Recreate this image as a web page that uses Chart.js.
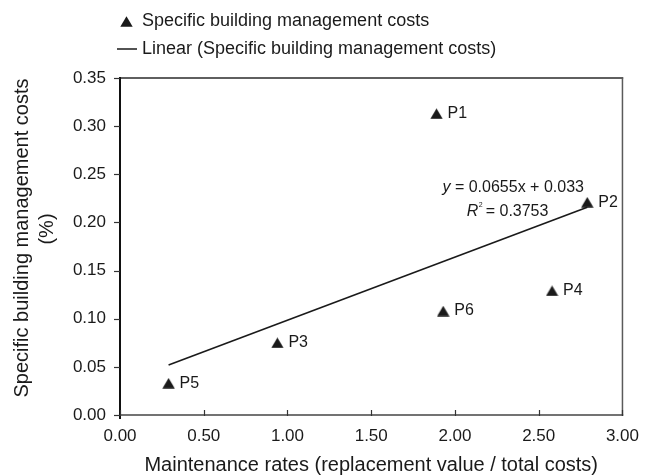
<!DOCTYPE html>
<html>
<head>
<meta charset="utf-8">
<script src="https://cdn.jsdelivr.net/npm/chart.js@4.4.1/dist/chart.umd.min.js"></script>
<style>
  html, body { margin: 0; padding: 0; background: #ffffff; }
  canvas { display: block; }
</style>
</head>
<body>
<canvas id="chart" width="650" height="475"></canvas>
<script>
// ---- data ----
const projects = ['P1', 'P2', 'P3', 'P4', 'P5', 'P6'];
const maintenanceRates = [1.89, 2.79, 0.94, 2.58, 0.29, 1.93];
const managementCosts = [0.313, 0.221, 0.075, 0.129, 0.033, 0.108];

// linear trend as reported on the chart
const trendSlope = 0.0655;
const trendIntercept = 0.033;
const trendR2 = 0.3753;

const xTicks = [0, 0.5, 1, 1.5, 2, 2.5, 3];
const yTicks = [0, 0.05, 0.10, 0.15, 0.20, 0.25, 0.30, 0.35];

const seriesName = 'Specific building management costs';
const trendName = 'Linear (Specific building management costs)';
const xTitle = 'Maintenance rates (replacement value / total costs)';
const yTitle = ['Specific building management costs', '(%)'];

// ---- derived chart data ----
const points = maintenanceRates.map((x, i) => ({ x: x, y: managementCosts[i] }));
const xLo = Math.min(...maintenanceRates);
const xHi = Math.max(...maintenanceRates);
const trendPoints = [xLo, xHi].map(x => ({ x: x, y: trendSlope * x + trendIntercept }));

const FONT = "'Liberation Sans', Arial, Helvetica, sans-serif";
const INK = '#1a1a1a';

// filled triangle marker, centred on its bounding box
function makeMarker(w, h) {
  const c = document.createElement('canvas');
  c.width = w; c.height = h;
  const g = c.getContext('2d');
  g.fillStyle = INK;
  g.beginPath();
  g.moveTo(w / 2, 0.3);
  g.lineTo(w - 0.3, h - 0.3);
  g.lineTo(0.3, h - 0.3);
  g.closePath();
  g.fill();
  return c;
}
const marker = makeMarker(13, 11);

const decorations = {
  id: 'decorations',
  afterDatasetsDraw(chart) {
    const ctx = chart.ctx;
    const a = chart.chartArea;
    const xs = chart.scales.x;
    const ys = chart.scales.y;
    ctx.save();

    // plot frame
    ctx.lineCap = 'square';
    ctx.strokeStyle = '#2a2a2a';
    ctx.lineWidth = 1.5;
    ctx.beginPath(); ctx.moveTo(a.left, a.top); ctx.lineTo(a.right, a.top); ctx.stroke();
    ctx.strokeStyle = '#5a5a5a';
    ctx.beginPath(); ctx.moveTo(a.right, a.top); ctx.lineTo(a.right, a.bottom); ctx.stroke();
    ctx.strokeStyle = '#444';
    ctx.beginPath(); ctx.moveTo(a.left, a.bottom); ctx.lineTo(a.right, a.bottom); ctx.stroke();
    ctx.strokeStyle = '#111';
    ctx.lineWidth = 2;
    ctx.beginPath(); ctx.moveTo(a.left, a.top); ctx.lineTo(a.left, a.bottom + 3); ctx.stroke();

    // tick marks
    ctx.lineCap = 'butt';
    ctx.lineWidth = 1.2;
    ctx.strokeStyle = '#333';
    yTicks.forEach(v => {
      const py = Math.round(ys.getPixelForValue(v)) + 0.5;
      ctx.beginPath(); ctx.moveTo(a.left - 6, py); ctx.lineTo(a.left, py); ctx.stroke();
    });
    xTicks.forEach(v => {
      const px = Math.round(xs.getPixelForValue(v)) + 0.5;
      ctx.beginPath(); ctx.moveTo(px, a.bottom - 5); ctx.lineTo(px, a.bottom + 1); ctx.stroke();
    });

    // point labels
    ctx.fillStyle = INK;
    ctx.font = '16px ' + FONT;
    ctx.textAlign = 'left';
    ctx.textBaseline = 'middle';
    projects.forEach((name, i) => {
      const px = xs.getPixelForValue(maintenanceRates[i]);
      const py = ys.getPixelForValue(managementCosts[i]);
      ctx.fillText(name, px + 11, py);
    });

    // trend equation
    const eqRight = xs.getPixelForValue(2.77);
    const eqY = ys.getPixelForValue(0.236);
    const eqRest = ' = ' + trendSlope + 'x + ' + trendIntercept;
    ctx.font = '16px ' + FONT;
    const wRest = ctx.measureText(eqRest).width;
    ctx.font = 'italic 16px ' + FONT;
    const wY = ctx.measureText('y').width;
    const ex = eqRight - wRest - wY;
    ctx.fillText('y', ex, eqY);
    ctx.font = '16px ' + FONT;
    ctx.fillText(eqRest, ex + wY, eqY);

    const r2X = xs.getPixelForValue(2.07);
    const r2Y = ys.getPixelForValue(0.211);
    ctx.font = 'italic 16px ' + FONT;
    ctx.fillText('R', r2X, r2Y);
    const wR = ctx.measureText('R').width;
    ctx.font = '7px ' + FONT;
    ctx.fillText('2', r2X + wR + 0.5, r2Y - 7);
    ctx.font = '16px ' + FONT;
    ctx.fillText(' = ' + trendR2, r2X + wR + 3, r2Y);

    // legend
    ctx.drawImage(marker, 120, 16);
    ctx.fillStyle = INK;
    ctx.font = '18px ' + FONT;
    ctx.fillText(seriesName, 142, 21);
    ctx.strokeStyle = INK;
    ctx.lineWidth = 1.5;
    ctx.beginPath(); ctx.moveTo(117, 49); ctx.lineTo(137, 49); ctx.stroke();
    ctx.fillText(trendName, 142, 49);

    // axis titles
    ctx.font = '20px ' + FONT;
    ctx.textAlign = 'center';
    ctx.fillText(xTitle, (a.left + a.right) / 2, 465);
    ctx.save();
    ctx.translate(22, 238);
    ctx.rotate(-Math.PI / 2);
    ctx.fillText(yTitle[0], 0, 0);
    ctx.restore();
    ctx.save();
    ctx.translate(47, 229);
    ctx.rotate(-Math.PI / 2);
    ctx.fillText(yTitle[1], 0, 0);
    ctx.restore();

    ctx.restore();
  }
};

new Chart(document.getElementById('chart'), {
  type: 'scatter',
  data: {
    datasets: [
      {
        label: seriesName,
        data: points,
        pointStyle: marker,
        pointRadius: 7,
        pointHoverRadius: 7,
        backgroundColor: INK,
        borderColor: INK,
        borderWidth: 0,
        showLine: false
      },
      {
        label: trendName,
        type: 'line',
        data: trendPoints,
        borderColor: INK,
        borderWidth: 1.6,
        pointRadius: 0,
        fill: false,
        tension: 0
      }
    ]
  },
  options: {
    responsive: false,
    animation: false,
    devicePixelRatio: 1,
    layout: { padding: { left: 0, right: 20, top: 78, bottom: 0 } },
    plugins: {
      legend: { display: false },
      tooltip: { enabled: false }
    },
    scales: {
      x: {
        type: 'linear',
        min: 0,
        max: 3,
        afterBuildTicks: s => { s.ticks = xTicks.map(v => ({ value: v })); },
        afterFit: s => { s.height = 60; },
        grid: { display: false, drawTicks: false },
        border: { display: false },
        ticks: {
          padding: 11,
          color: INK,
          font: { family: FONT, size: 17 },
          maxRotation: 0,
          autoSkip: false,
          callback: v => Number(v).toFixed(2)
        }
      },
      y: {
        type: 'linear',
        min: 0,
        max: 0.35,
        afterBuildTicks: s => { s.ticks = yTicks.map(v => ({ value: v })); },
        afterFit: s => { s.width = 120; },
        grid: { display: false, drawTicks: false },
        border: { display: false },
        ticks: {
          padding: 14,
          color: INK,
          font: { family: FONT, size: 17 },
          autoSkip: false,
          callback: v => Number(v).toFixed(2)
        }
      }
    }
  },
  plugins: [decorations]
});
</script>
</body>
</html>
